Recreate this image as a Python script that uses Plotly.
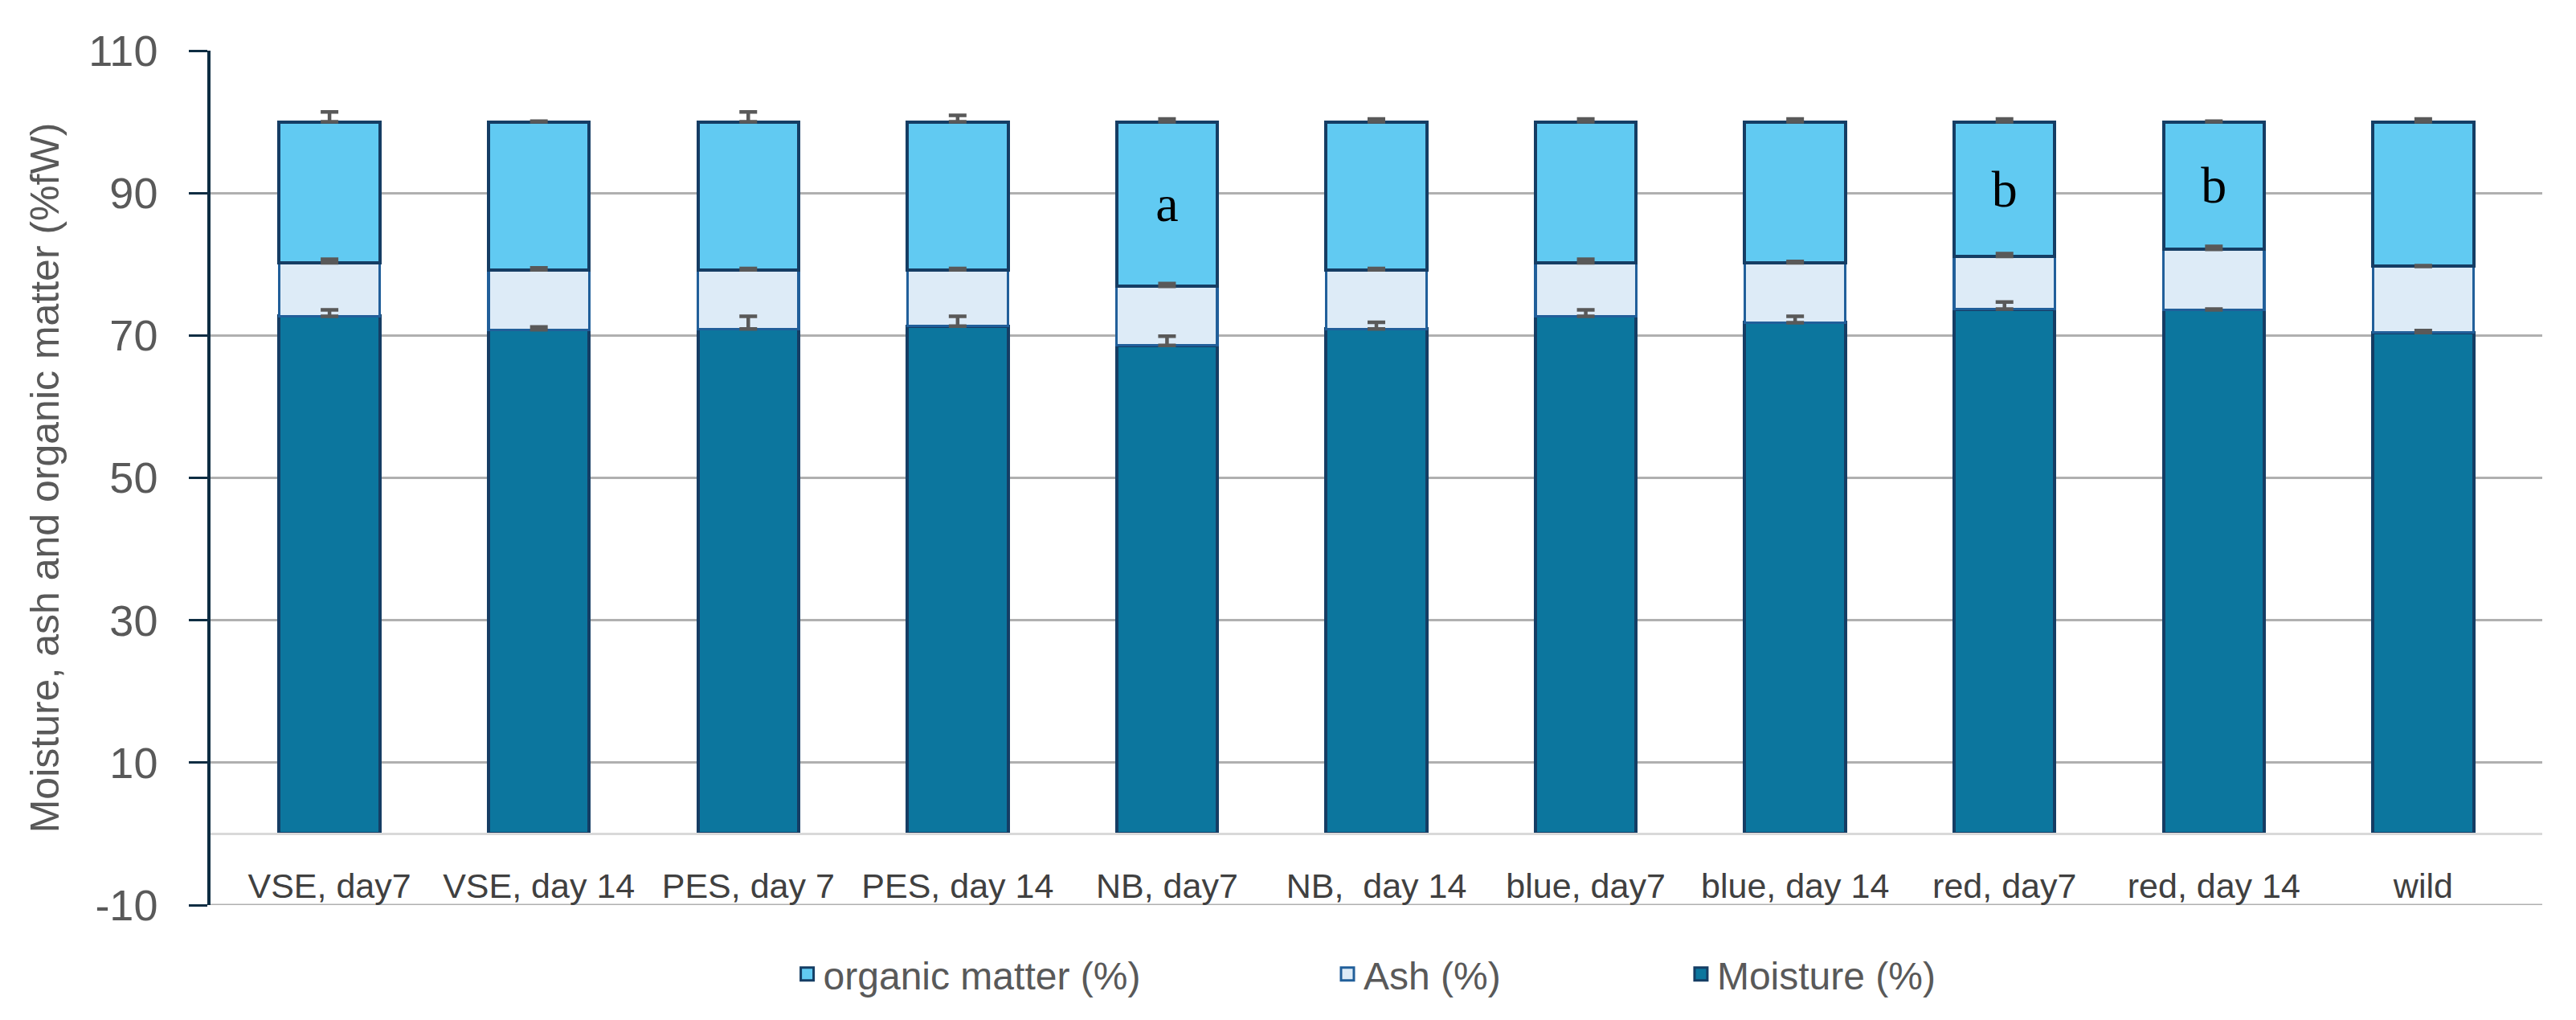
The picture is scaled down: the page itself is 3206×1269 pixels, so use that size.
import numpy as np
import plotly.graph_objects as go

categories = ["VSE, day7", "VSE, day 14", "PES, day 7", "PES, day 14", "NB, day7",
              "NB,\u00a0 day 14", "blue, day7", "blue, day 14", "red, day7", "red, day 14", "wild"]
moisture = [72.7, 70.8, 70.9, 71.3, 68.6, 70.9, 72.7, 71.8, 73.7, 73.6, 70.4]
ash = [7.5, 8.4, 8.3, 7.9, 8.3, 8.3, 7.5, 8.4, 7.4, 8.5, 9.3]
organic = [19.8, 20.8, 20.8, 20.8, 23.1, 20.8, 19.8, 19.8, 18.9, 17.9, 20.3]
moisture_err = [0.9, 0.4, 1.8, 1.4, 1.3, 0.95, 0.9, 0.9, 1.0, 0.1, 0.3]
ash_err = [0.5, 0.3, 0.2, 0.2, 0.4, 0.2, 0.5, 0.2, 0.4, 0.4, 0.1]
organic_err = [1.4, 0.1, 1.4, 0.9, 0.4, 0.4, 0.4, 0.4, 0.4, 0.1, 0.4]
letters = ["", "", "", "", "a", "", "", "", "b", "b", ""]
y_ticks = [-10, 10, 30, 50, 70, 90, 110]
y_tick_labels = ["-10", "10", "30", "50", "70", "90", "110"]

names = ["Moisture (%)", "Ash (%)", "organic matter (%)"]
fills = ["#0C769E", "#DDEBF7", "#61CAF2"]
borders = ["#153D64", "#215F9A", "#153D64"]
bwidth = [4, 3.2, 4]

series = [moisture, ash, organic]
errs = [moisture_err, ash_err, organic_err]

fig = go.Figure()
for i, (vals, nm) in enumerate(zip(series, names)):
    kw = {}
    if i == 2:
        kw = dict(text=letters, textposition="inside", insidetextanchor="middle",
                  textangle=0, constraintext="none",
                  textfont=dict(family="Liberation Serif", size=64, color="black"))
    fig.add_trace(go.Bar(x=categories, y=vals, name=nm, showlegend=False,
                         marker=dict(color=fills[i], line=dict(color=borders[i], width=bwidth[i])),
                         hoverinfo="skip", **kw))

# error bars drawn on top of all bars
cum = np.zeros(len(categories))
for i, vals in enumerate(series):
    cum = cum + np.array(vals)
    fig.add_trace(go.Scatter(x=categories, y=cum, mode="markers", showlegend=False,
                             marker=dict(size=1, color="rgba(0,0,0,0)"),
                             error_y=dict(type="data", array=errs[i], arrayminus=[0] * len(categories),
                                          symmetric=False, color="#595959", thickness=4.5, width=11),
                             hoverinfo="skip"))

# legend entries (three separate legends to match spacing)
leg_names = ["legend", "legend2", "legend3"]
order = [2, 1, 0]
for k, i in enumerate(order):
    fig.add_trace(go.Scatter(x=[None], y=[None], mode="markers", name=names[i], legend=leg_names[k],
                             marker=dict(symbol="square", size=16, color=fills[i],
                                         line=dict(color=borders[i], width=3))))

leg_x = [0.249, 0.4807, 0.6323]
leg_common = dict(orientation="h", y=-0.081, yanchor="middle", xanchor="left",
                  font=dict(family="Liberation Sans", size=48, color="#595959"),
                  bgcolor="rgba(0,0,0,0)", itemwidth=30)

# bottom gridline at the lowest tick (plotly hides the edge gridline)
fig.add_shape(type="line", xref="paper", x0=0, x1=1, yref="y", y0=y_ticks[0], y1=y_ticks[0],
              line=dict(color="#B0B0B0", width=3), layer="below")

fig.update_layout(
    width=3206, height=1269,
    margin=dict(l=262, r=42, t=63, b=143),
    paper_bgcolor="white", plot_bgcolor="white",
    barmode="stack", bargap=0.519,
    legend=dict(x=leg_x[0], **leg_common),
    legend2=dict(x=leg_x[1], **leg_common),
    legend3=dict(x=leg_x[2], **leg_common),
    xaxis=dict(anchor="free", position=10 / 120, showline=True, linecolor="#D9D9D9", linewidth=3,
               showgrid=False, ticks="", tickfont=dict(family="Liberation Sans", size=43, color="#404040"),
               ticklabelstandoff=26),
    yaxis=dict(range=[-10, 110], tickvals=y_ticks, ticktext=y_tick_labels,
               showgrid=True, gridcolor="#B0B0B0", gridwidth=3,
               zeroline=False, showline=True, linecolor="#0E2D42", linewidth=3.5,
               ticks="outside", ticklen=23, tickwidth=3, tickcolor="#0E2D42",
               tickfont=dict(family="Liberation Sans", size=54, color="#595959"),
               ticklabelstandoff=28,
               title=dict(text="Moisture, ash and organic matter (%fW)", standoff=22,
                          font=dict(family="Liberation Sans", size=50, color="#595959"))),
)

fig.write_html("out.html", config={"displayModeBar": False},
               post_script="document.body.style.margin='0';document.body.style.overflow='hidden';")
